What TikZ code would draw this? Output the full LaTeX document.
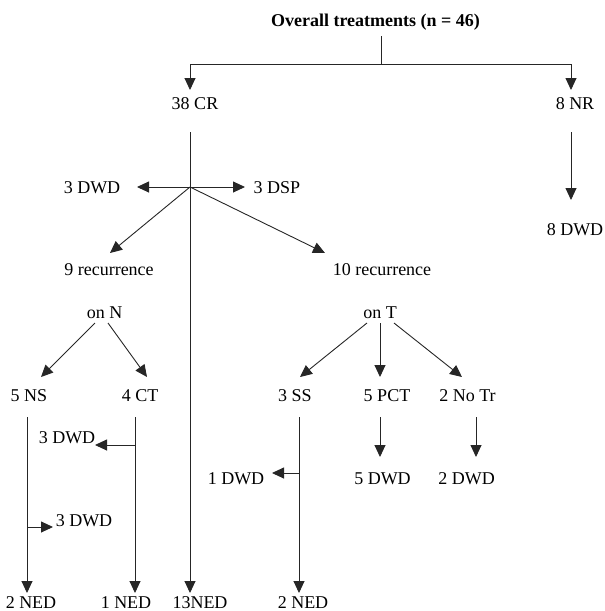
\documentclass[tikz,border=0pt]{standalone}
\usepackage{fontspec}
\setmainfont{Liberation Serif}
\usetikzlibrary{arrows.meta,calc}
\tikzset{
  lbl/.style={inner sep=0pt,text height=12pt,text depth=0pt,anchor=center,font=\fontsize{18}{21}\selectfont},
  ttl/.style={lbl,font=\fontsize{18}{21}\selectfont\bfseries},
  conn/.style={line width=0.9pt,draw=black!85},
  arr/.style={conn,-{Triangle[length=12pt,width=11pt]}}
}
\begin{document}
\begin{tikzpicture}[x=1pt,y=-1pt]
\useasboundingbox (0,0) rectangle (605,611);
% nodes
\node[ttl] (title) at (375.5,20) {Overall treatments (n = 46)};
\node[lbl] (cr) at (195,103) {38 CR};
\node[lbl] (nr) at (575,103) {8 NR};
\node[lbl] (dwdA) at (92,187) {3 DWD};
\node[lbl] (dsp) at (277,187) {3 DSP};
\node[lbl] (nrdwd) at (575,229) {8 DWD};
\node[lbl] (rec9) at (109,269) {9 recurrence};
\node[lbl] (rec10) at (382,269) {10 recurrence};
\node[lbl] (onN) at (104.5,312) {on N};
\node[lbl] (onT) at (380,312) {on T};
\node[lbl] (ns) at (29,395) {5 NS};
\node[lbl] (ct) at (140,395) {4 CT};
\node[lbl] (ss) at (295,395) {3 SS};
\node[lbl] (pct) at (387,395) {5 PCT};
\node[lbl] (notr) at (467.5,395) {2 No Tr};
\node[lbl] (ctdwd) at (67,437) {3 DWD};
\node[lbl] (ssdwd) at (236,478) {1 DWD};
\node[lbl] (pctdwd) at (382.5,478) {5 DWD};
\node[lbl] (notrdwd) at (466.7,478) {2 DWD};
\node[lbl] (nsdwd) at (84,520) {3 DWD};
\node[lbl] (ned2a) at (31,602) {2 NED};
\node[lbl] (ned1) at (126,602) {1 NED};
\node[lbl] (ned13) at (200,602) {13NED};
\node[lbl] (ned2b) at (303,602) {2 NED};
% connectors
\coordinate (split) at ($(title)+(5.5,44)$);
\draw[conn] ($(title)+(5.5,16)$) -- (split);
\draw[arr] (split) -| ($(cr)+(-5,-13)$);
\draw[arr] (split) -| ($(nr)+(-4,-13)$);
\draw[arr] ($(cr)+(-5,29)$) -- ($(ned13)+(-10,-9)$);
\draw[arr] ($(nr)+(-4,29)$) -- ($(nrdwd)+(-4,-29)$);
\coordinate (J) at ($(cr)+(-5,84)$);
\draw[arr] (J) -- ($(dwdA)+(45,0)$);
\draw[arr] (J) -- ($(dsp)+(-32,0)$);
\draw[arr] (J) -- ($(rec9)+(1,-16)$);
\draw[arr] (J) -- ($(rec10)+(-57,-16)$);
\draw[arr] ($(onN)+(-9.5,11)$) -- ($(ns)+(12,-18)$);
\draw[arr] ($(onN)+(3.5,11)$) -- ($(ct)+(7,-18)$);
\draw[arr] ($(onT)+(-13,11)$) -- ($(ss)+(5,-18)$);
\draw[arr] ($(onT)+(0,11)$) -- ($(pct)+(-7,-18)$);
\draw[arr] ($(onT)+(14,11)$) -- ($(notr)+(-5.5,-18)$);
\draw[arr] ($(ns)+(-2,22)$) -- ($(ned2a)+(-4,-9)$);
\draw[arr] ($(ns)+(-2,132)$) -- ($(nsdwd)+(-31,7)$);
\draw[arr] ($(ct)+(-5,22)$) -- ($(ned1)+(9,-9)$);
\draw[arr] ($(ct)+(-5,50)$) -- ($(ctdwd)+(28,8)$);
\draw[arr] ($(ss)+(4,22)$) -- ($(ned2b)+(-4,-9)$);
\draw[arr] ($(ss)+(4,78)$) -- ($(ssdwd)+(36,-5)$);
\draw[arr] ($(pct)+(-7,22)$) -- ($(pctdwd)+(-2.5,-21)$);
\draw[arr] ($(notr)+(8.5,22)$) -- ($(notrdwd)+(9.3,-21)$);
\end{tikzpicture}
\end{document}
